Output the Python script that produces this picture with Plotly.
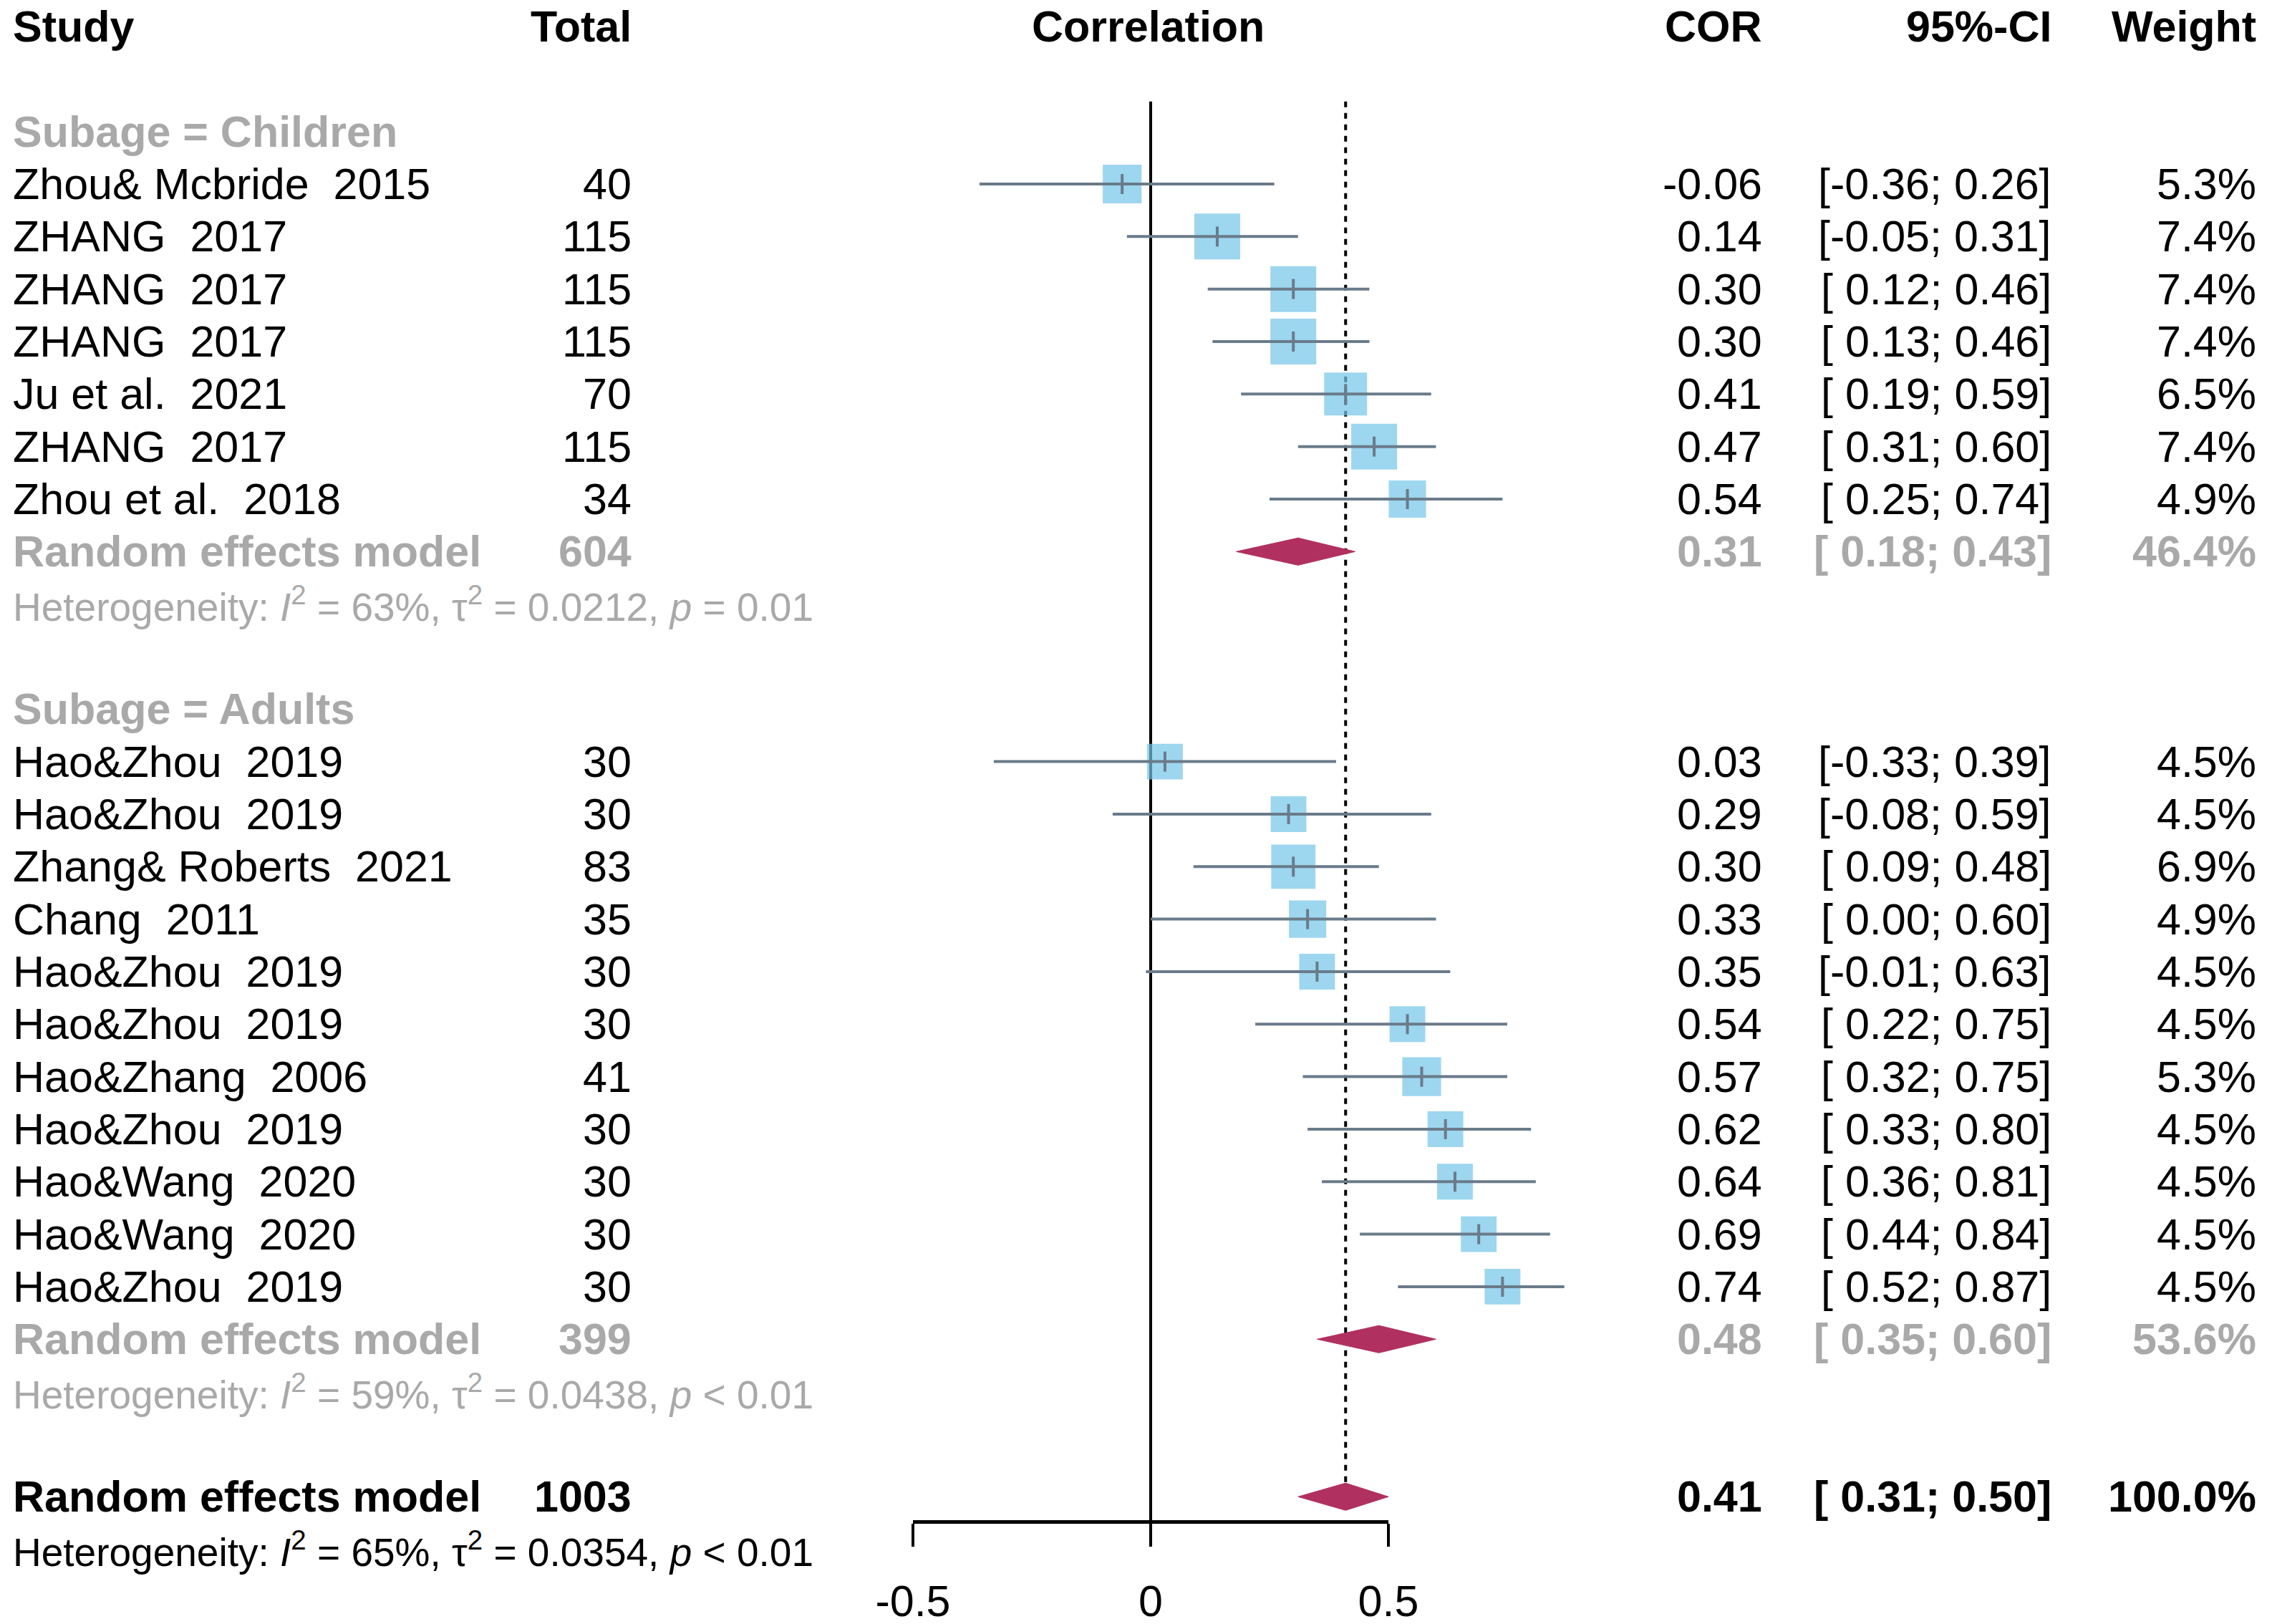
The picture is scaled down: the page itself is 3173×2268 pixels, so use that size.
import plotly.graph_objects as go

# ---------------- data ----------------
child_study = ["Zhou& Mcbride", "ZHANG", "ZHANG", "ZHANG", "Ju et al.", "ZHANG", "Zhou et al."]
child_year = ["2015", "2017", "2017", "2017", "2021", "2017", "2018"]
child_total = [40, 115, 115, 115, 70, 115, 34]
child_cor = [-0.06, 0.14, 0.30, 0.30, 0.41, 0.47, 0.54]
child_lo = [-0.36, -0.05, 0.12, 0.13, 0.19, 0.31, 0.25]
child_hi = [0.26, 0.31, 0.46, 0.46, 0.59, 0.60, 0.74]
child_w = [5.3, 7.4, 7.4, 7.4, 6.5, 7.4, 4.9]

adult_study = ["Hao&Zhou", "Hao&Zhou", "Zhang& Roberts", "Chang", "Hao&Zhou", "Hao&Zhou",
               "Hao&Zhang", "Hao&Zhou", "Hao&Wang", "Hao&Wang", "Hao&Zhou"]
adult_year = ["2019", "2019", "2021", "2011", "2019", "2019", "2006", "2019", "2020", "2020", "2019"]
adult_total = [30, 30, 83, 35, 30, 30, 41, 30, 30, 30, 30]
adult_cor = [0.03, 0.29, 0.30, 0.33, 0.35, 0.54, 0.57, 0.62, 0.64, 0.69, 0.74]
adult_lo = [-0.33, -0.08, 0.09, 0.00, -0.01, 0.22, 0.32, 0.33, 0.36, 0.44, 0.52]
adult_hi = [0.39, 0.59, 0.48, 0.60, 0.63, 0.75, 0.75, 0.80, 0.81, 0.84, 0.87]
adult_w = [4.5, 4.5, 6.9, 4.9, 4.5, 4.5, 5.3, 4.5, 4.5, 4.5, 4.5]

group_labels = ["Subage = Children", "Subage = Adults"]
pooled_total = [604, 399, 1003]
pooled_cor = [0.31, 0.48, 0.41]
pooled_lo = [0.18, 0.35, 0.31]
pooled_hi = [0.43, 0.60, 0.50]
pooled_w = [46.4, 53.6, 100.0]
het_i2 = ["63%", "59%", "65%"]
het_tau2 = ["0.0212", "0.0438", "0.0354"]
het_p = ["= 0.01", "< 0.01", "< 0.01"]

tick_vals = [-0.5, 0, 0.5]
tick_text = ["-0.5", "0", "0.5"]

# ---------------- layout constants ----------------
W, H = 3173, 2268
X0_PX, UNIT_PX = 1599, 664          # pixel of x=0, pixels per unit
ROW0_PX, ROW_PX = 29, 73.33         # pixel of row 0, pixels per row
FONT = "Liberation Sans, Arial, sans-serif"
FS = 61
FS_HET = 55
GREY = "#A9A9A9"
SQ_COL = "#74C4E8"
LINE_COL = "#6A7B8A"
DIA_COL = "#B03060"

x_min = (0 - X0_PX) / UNIT_PX
x_max = (W - X0_PX) / UNIT_PX
y_top = (0 - ROW0_PX) / ROW_PX
y_bot = (H - ROW0_PX) / ROW_PX

COL_STUDY = 8 / W
COL_TOTAL = 876 / W
COL_HEAD_CORR = 1595 / W
COL_COR = 2455 / W
COL_CI = 2859 / W
COL_W = 3145 / W

# rows
child_rows = list(range(3, 3 + len(child_cor)))
adult_rows = list(range(14, 14 + len(adult_cor)))
group_rows = [2, 13]
pooled_rows = [10, 25, 28]
het_rows = [11, 26, 29]
AXIS_ROW = 28.47
TOP_ROW = 1.43

studies = child_study + adult_study
years = child_year + adult_year
totals = child_total + adult_total
cors = child_cor + adult_cor
los = child_lo + adult_lo
his = child_hi + adult_hi
ws = child_w + adult_w
rows = child_rows + adult_rows

fig = go.Figure()

# reference lines
fig.add_trace(go.Scatter(x=[0, 0], y=[TOP_ROW, AXIS_ROW], mode="lines",
                         line=dict(color="black", width=4), hoverinfo="skip", showlegend=False))
fig.add_trace(go.Scatter(x=[pooled_cor[2], pooled_cor[2]], y=[TOP_ROW, pooled_rows[2]], mode="lines",
                         line=dict(color="black", width=4, dash="8px,8px"), hoverinfo="skip", showlegend=False))

# squares (side proportional to sqrt of weight)
sizes = [64 * (w / 7.4) ** 0.5 for w in ws]
fig.add_trace(go.Scatter(x=cors, y=rows, mode="markers",
                         marker=dict(symbol="square", size=sizes, color=SQ_COL, line=dict(width=0)),
                         hoverinfo="skip", showlegend=False))

# CI lines
cx, cy = [], []
for lo, hi, r in zip(los, his, rows):
    cx += [lo, hi, None]
    cy += [r, r, None]
fig.add_trace(go.Scatter(x=cx, y=cy, mode="lines", line=dict(color=LINE_COL, width=4),
                         hoverinfo="skip", showlegend=False))
# estimate ticks
fig.add_trace(go.Scatter(x=cors, y=rows, mode="markers",
                         marker=dict(symbol="line-ns", size=20, line=dict(color=LINE_COL, width=4)),
                         hoverinfo="skip", showlegend=False))

# diamonds
DH = 0.26
dx, dy = [], []
for est, lo, hi, r in zip(pooled_cor, pooled_lo, pooled_hi, pooled_rows):
    dx += [lo, est, hi, est, lo, None]
    dy += [r, r - DH, r, r + DH, r, None]
fig.add_trace(go.Scatter(x=dx, y=dy, mode="lines", fill="toself", fillcolor=DIA_COL,
                         line=dict(color=DIA_COL, width=1), hoverinfo="skip", showlegend=False))

# dummy trace for the visible axis
fig.add_trace(go.Scatter(x=[0], y=[AXIS_ROW], xaxis="x2", yaxis="y", mode="markers",
                         marker=dict(opacity=0), hoverinfo="skip", showlegend=False))

ann = []


def txt(x, y, text, anchor, color="black", size=FS):
    ann.append(dict(x=x, y=y, xref="paper", yref="y", text=text, showarrow=False,
                    xanchor=anchor, yanchor="middle", font=dict(family=FONT, size=size, color=color)))


NB = "\u00a0\u00a0"
# header
txt(COL_STUDY, 0, "<b>Study</b>", "left")
txt(COL_TOTAL, 0, "<b>Total</b>", "right")
txt(COL_HEAD_CORR, 0, "<b>Correlation</b>", "center")
txt(COL_COR, 0, "<b>COR</b>", "right")
txt(COL_CI, 0, "<b>95%-CI</b>", "right")
txt(COL_W, 0, "<b>Weight</b>", "right")

for lab, r in zip(group_labels, group_rows):
    txt(COL_STUDY, r, f"<b>{lab}</b>", "left", GREY)

for s, yr, n, e, lo, hi, w, r in zip(studies, years, totals, cors, los, his, ws, rows):
    txt(COL_STUDY, r, f"{s}{NB}{yr}", "left")
    txt(COL_TOTAL, r, str(n), "right")
    txt(COL_COR, r, f"{e:.2f}", "right")
    txt(COL_CI, r, f"[{lo: .2f}; {hi:.2f}]", "right")
    txt(COL_W, r, f"{w:.1f}%", "right")

for i, r in enumerate(pooled_rows):
    col = GREY if i < 2 else "black"
    txt(COL_STUDY, r, "<b>Random effects model</b>", "left", col)
    txt(COL_TOTAL, r, f"<b>{pooled_total[i]}</b>", "right", col)
    txt(COL_COR, r, f"<b>{pooled_cor[i]:.2f}</b>", "right", col)
    txt(COL_CI, r, f"<b>[{pooled_lo[i]: .2f}; {pooled_hi[i]:.2f}]</b>", "right", col)
    txt(COL_W, r, f"<b>{pooled_w[i]:.1f}%</b>", "right", col)

for i, r in enumerate(het_rows):
    col = GREY if i < 2 else "black"
    txt(COL_STUDY, r, f"Heterogeneity: <i>I</i><sup>2</sup> = {het_i2[i]}, \u03c4<sup>2</sup> = {het_tau2[i]}, "
                      f"<i>p</i> {het_p[i]}", "left", col, FS_HET)

fig.update_layout(
    width=W, height=H, margin=dict(l=0, r=0, t=0, b=0, autoexpand=False),
    paper_bgcolor="white", plot_bgcolor="rgba(0,0,0,0)",
    showlegend=False,
    xaxis=dict(range=[x_min, x_max], domain=[0, 1], visible=False, fixedrange=True, automargin=False),
    xaxis2=dict(anchor="free", automargin=False,
                position=1 - (ROW0_PX + AXIS_ROW * ROW_PX) / H,
                domain=[(X0_PX - 0.5 * UNIT_PX) / W, (X0_PX + 0.5 * UNIT_PX) / W],
                range=[-0.5, 0.5], showline=True, linecolor="black", linewidth=5,
                ticks="outside", ticklen=32, tickwidth=4, tickcolor="black",
                tickvals=tick_vals, ticktext=tick_text, showgrid=False, zeroline=False,
                fixedrange=True,
                tickfont=dict(family=FONT, size=FS, color="black"), ticklabelstandoff=24),
    yaxis=dict(range=[y_bot, y_top], domain=[0, 1], visible=False, fixedrange=True, automargin=False),
    annotations=ann,
)

fig.write_html("out.html")
